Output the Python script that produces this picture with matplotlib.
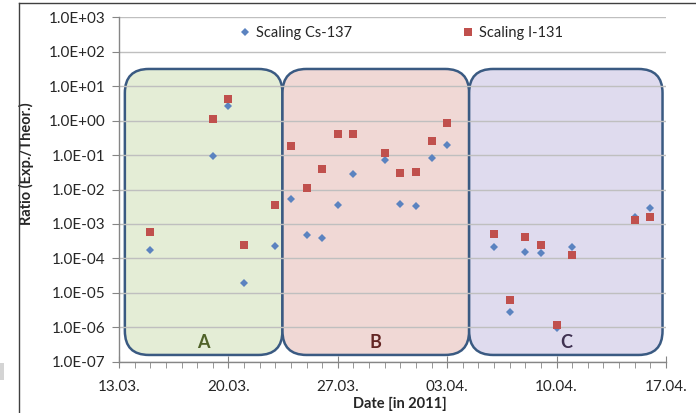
import matplotlib
matplotlib.use('Agg')
import matplotlib.pyplot as plt
import matplotlib.dates as mdates
from matplotlib.patches import FancyBboxPatch, Rectangle
from matplotlib.lines import Line2D
from matplotlib.transforms import IdentityTransform
from matplotlib.ticker import FixedLocator, FuncFormatter, NullLocator
import datetime as dt

plt.rcParams['font.family'] = ['Lato', 'DejaVu Sans']

# ---------------- data ----------------
dates = ['2011-03-15', '2011-03-19', '2011-03-20', '2011-03-21', '2011-03-23',
         '2011-03-24', '2011-03-25', '2011-03-26', '2011-03-27', '2011-03-28',
         '2011-03-30', '2011-03-31', '2011-04-01', '2011-04-02', '2011-04-03',
         '2011-04-06', '2011-04-07', '2011-04-08', '2011-04-09', '2011-04-10',
         '2011-04-11', '2011-04-15', '2011-04-16']
cs137 = [1.75e-4, 0.092, 2.6, 1.9e-5, 2.3e-4,
         5.2e-3, 4.7e-4, 3.8e-4, 3.5e-3, 0.029,
         0.072, 3.7e-3, 3.3e-3, 0.084, 0.19,
         2.1e-4, 2.7e-6, 1.5e-4, 1.4e-4, 9.8e-7,
         2.2e-4, 1.6e-3, 3.0e-3]
i131 = [5.9e-4, 1.1, 4.2, 2.4e-4, 3.6e-3,
        0.187, 0.0108, 0.0386, 0.41, 0.41,
        0.117, 0.0295, 0.032, 0.25, 0.84,
        5.2e-4, 6.1e-6, 4.3e-4, 2.4e-4, 1.19e-6,
        1.23e-4, 1.33e-3, 1.56e-3]

series_labels = ['Scaling Cs-137', 'Scaling I-131']
x_tick_dates = ['2011-03-13', '2011-03-20', '2011-03-27', '2011-04-03', '2011-04-10', '2011-04-17']
x_tick_labels = ['13.03.', '20.03.', '27.03.', '03.04.', '10.04.', '17.04.']
y_ticks = [1e-7, 1e-6, 1e-5, 1e-4, 1e-3, 1e-2, 1e-1, 1e0, 1e1, 1e2, 1e3]

# regions: label, start, end, fill colour, text colour
regions = [
    ('A', '2011-03-13 09:00', '2011-03-23 11:00', '#e4edd6', '#4f6228'),
    ('B', '2011-03-23 11:00', '2011-04-04 09:40', '#f0d8d5', '#632523'),
    ('C', '2011-04-04 09:40', '2011-04-16 18:40', '#dfdbee', '#3f3151'),
]
region_ymin, region_ymax = 1.57e-7, 31.6

# ---------------- figure ----------------
W, H = 696, 413
fig = plt.figure(figsize=(W / 100, H / 100), dpi=100)
fig.patch.set_facecolor('white')

ax_l, ax_r, ax_t, ax_b = 119, 666, 17.3, 361.7
ax = fig.add_axes([ax_l / W, (H - ax_b) / H, (ax_r - ax_l) / W, (ax_b - ax_t) / H])

to_num = lambda d: mdates.date2num(dt.datetime.fromisoformat(d))
xd = [to_num(d) for d in dates]
xt = [to_num(d) for d in x_tick_dates]

ax.set_yscale('log')
ax.set_xlim(xt[0], xt[-1])
ax.set_ylim(y_ticks[0], y_ticks[-1])

axis_col = '#868686'
for s in ['top', 'right']:
    ax.spines[s].set_visible(False)
for s in ['left', 'bottom']:
    ax.spines[s].set_color(axis_col)
    ax.spines[s].set_linewidth(1.0)

ax.yaxis.set_major_locator(FixedLocator(y_ticks))
ax.yaxis.set_minor_locator(NullLocator())
ax.yaxis.set_major_formatter(FuncFormatter(lambda v, p: f'{v:.1E}'))
ax.set_xticks(xt)
ax.set_xticklabels(x_tick_labels)
ax.xaxis.set_minor_locator(mdates.DayLocator())

ax.tick_params(axis='y', which='major', length=5, color=axis_col, labelsize=11, pad=5, labelcolor='#262626')
ax.tick_params(axis='x', which='major', direction='inout', length=9, color=axis_col, labelsize=11, pad=9, labelcolor='#262626')
ax.tick_params(axis='x', which='minor', direction='out', length=4, color=axis_col)

ax.set_axisbelow(True)
ax.grid(axis='y', which='major', color='#bfbfbf', linewidth=1.0)

# region boxes (drawn in pixel space so rounded corners stay circular)
for lab, s, e, fc, tc in regions:
    (px0, py0) = ax.transData.transform((to_num(s), region_ymin))
    (px1, py1) = ax.transData.transform((to_num(e), region_ymax))
    box = FancyBboxPatch((px0, py0), px1 - px0, py1 - py0,
                         boxstyle='round,pad=0,rounding_size=24',
                         transform=IdentityTransform(), facecolor=fc,
                         edgecolor='#3a5a82', linewidth=1.8, zorder=0.3,
                         clip_on=False)
    ax.add_artist(box)
    ax.text((px0 + px1) / 2, py0 + 12, lab, transform=IdentityTransform(),
            ha='center', va='center', fontsize=13, fontweight='bold', color=tc, zorder=2)

ax.plot(xd, cs137, linestyle='none', marker='D', markersize=4.5,
        color='#5b83c0', markeredgewidth=0, zorder=3, label=series_labels[0])
ax.plot(xd, i131, linestyle='none', marker='s', markersize=6,
        color='#c0504d', markeredgewidth=0, zorder=3, label=series_labels[1])

handles = [Line2D([], [], linestyle='none', marker='D', markersize=4.5, color='#5b83c0', markeredgewidth=0),
           Line2D([], [], linestyle='none', marker='s', markersize=6, color='#c0504d', markeredgewidth=0)]
fig.legend(handles, series_labels, ncol=2, frameon=False, loc='center',
           bbox_to_anchor=(401 / W, (H - 33) / H), bbox_transform=fig.transFigure,
           columnspacing=7.6, handletextpad=0.3, handlelength=0.8, fontsize=10.5,
           labelcolor='#262626')

ax.set_ylabel('Ratio (Exp./Theor.)', fontsize=10.5, fontweight='bold', color='#262626')
ax.yaxis.set_label_coords((34 - ax_l) / (ax_r - ax_l), (ax_b - 164) / (ax_b - ax_t))
fig.text(399.5 / W, (H - 404) / H, 'Date [in 2011]', ha='center', va='center',
         fontsize=10.5, fontweight='bold', color='#262626')

# outer frame lines and small grey patch
fig.add_artist(Line2D([19 / W, 19 / W], [0, (H - 3) / H], color='#404040', linewidth=1.0, transform=fig.transFigure))
fig.add_artist(Line2D([19 / W, 1], [(H - 3) / H, (H - 3) / H], color='#404040', linewidth=1.0, transform=fig.transFigure))
fig.add_artist(Rectangle((0, (H - 380) / H), 4 / W, 17 / H, transform=fig.transFigure,
                         facecolor='#d4d4d4', edgecolor='none'))

fig.savefig('out.png', dpi=100, facecolor='white')
